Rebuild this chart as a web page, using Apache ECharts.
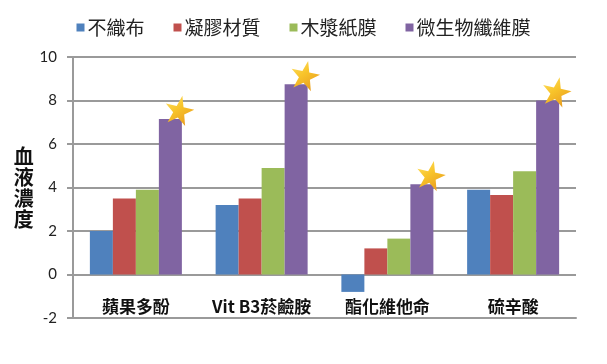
<!DOCTYPE html>
<html>
<head>
<meta charset="utf-8">
<script src="https://cdn.jsdelivr.net/npm/echarts@6/dist/echarts.min.js"></script>
<style>
html,body{margin:0;padding:0;background:#fff;}
#c{width:607px;height:364px;}
</style>
</head>
<body>
<div id="c"></div>
<script>
const categories = ['蘋果多酚', 'Vit B3菸鹼胺', '酯化維他命', '硫辛酸'];
const seriesNames = ['不織布', '凝膠材質', '木漿紙膜', '微生物纖維膜'];
const nonwoven = [2.0, 3.2, -0.8, 3.9];
const gel = [3.5, 3.5, 1.2, 3.65];
const woodPulp = [3.9, 4.9, 1.65, 4.75];
const microbial = [7.15, 8.75, 4.15, 8.0];
const yTicks = [-2, 0, 2, 4, 6, 8, 10];

const colors = ['#4F81BD', '#C0504D', '#9BBB59', '#8064A2'];
const cjk = '"Noto Sans CJK TC", "Noto Sans CJK SC", sans-serif';
const STAR = 'path://M50,0 L61.8,35.3 L99,35.3 L69,57.2 L80.3,92.6 L50,70.7 L19.7,92.6 L31,57.2 L1,35.3 L38.2,35.3 Z';

const values = [nonwoven, gel, woodPulp, microbial];

const chart = echarts.init(document.getElementById('c'), null, {renderer: 'canvas'});

const series = seriesNames.map((name, i) => {
  const s = {
    name: name,
    type: 'bar',
    data: values[i],
    barWidth: 23,
    barGap: '0%',
    itemStyle: {color: colors[i]},
    emphasis: {disabled: true}
  };
  if (i === 3) {
    s.markPoint = {
      symbol: STAR,
      symbolSize: 29,
      symbolRotate: -12,
      symbolOffset: [9, -9],
      label: {show: false},
      itemStyle: {
        color: new echarts.graphic.LinearGradient(0, 0, 1, 1, [
          {offset: 0, color: '#FFE46A'},
          {offset: 0.45, color: '#F8C42A'},
          {offset: 1, color: '#E6951E'}
        ])
      },
      data: categories.map((c, k) => ({coord: [c, microbial[k]]}))
    };
  }
  return s;
});

chart.setOption({
  animation: false,
  backgroundColor: '#fff',
  legend: {
    data: seriesNames,
    left: 'center',
    top: 13,
    icon: 'rect',
    itemWidth: 8,
    itemHeight: 8,
    itemGap: 29,
    textStyle: {fontFamily: cjk, fontSize: 19, color: '#222', padding: [0, 0, 0, -2]}
  },
  grid: {left: 73, right: 31, top: 57, bottom: 46, containLabel: false},
  xAxis: {
    type: 'category',
    data: categories,
    position: 'bottom',
    axisLine: {onZero: false, show: true, lineStyle: {color: '#9a9a9a', width: 2}},
    axisTick: {show: false},
    splitLine: {show: false},
    axisLabel: {
      interval: 0,
      inside: true,
      margin: 3,
      fontFamily: cjk,
      fontWeight: 'bold',
      fontSize: 17,
      color: '#111'
    }
  },
  yAxis: {
    type: 'value',
    min: yTicks[0],
    max: yTicks[yTicks.length - 1],
    interval: 2,
    name: '血\n液\n濃\n度',
    nameLocation: 'middle',
    nameRotate: 0,
    nameGap: 49,
    nameTextStyle: {
      fontFamily: cjk,
      fontWeight: 'bold',
      fontSize: 20,
      lineHeight: 21,
      color: '#111',
      align: 'center',
      verticalAlign: 'middle'
    },
    axisLine: {show: true, lineStyle: {color: '#9a9a9a', width: 2}},
    axisTick: {show: true, length: 6, lineStyle: {color: '#9a9a9a', width: 2}},
    axisLabel: {
      margin: 16,
      fontFamily: 'Lato, "Open Sans", sans-serif',
      fontSize: 15,
      color: '#222'
    },
    splitLine: {show: true, lineStyle: {color: '#9a9a9a', width: 2}}
  },
  series: series
});
</script>
</body>
</html>
